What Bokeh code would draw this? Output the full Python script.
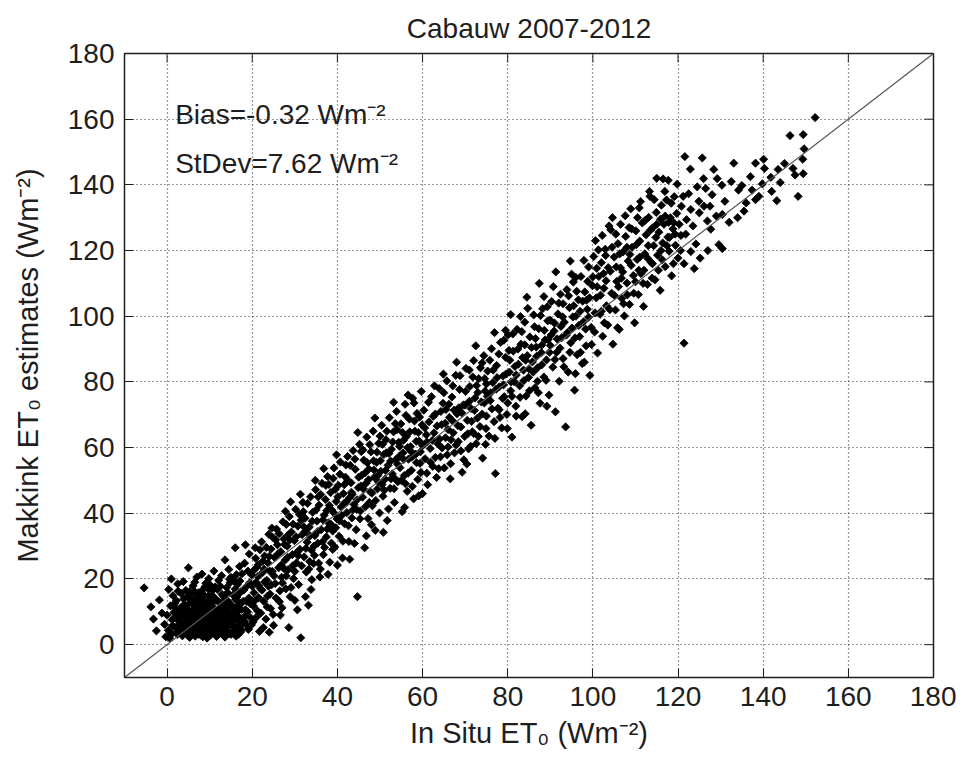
import math
from bokeh.plotting import figure
from bokeh.models import Label, FixedTicker, Range1d, ColumnDataSource
from bokeh.embed import file_html
from bokeh.resources import INLINE

title_text = "Cabauw 2007-2012"
x_label = "In Situ ET\u2080 (Wm\u207b\u00b2)"
y_label = "Makkink ET\u2080 estimates (Wm\u207b\u00b2)"
bias_text = "Bias=-0.32 Wm\u207b\u00b2"
stdev_text = "StDev=7.62 Wm\u207b\u00b2"
axis_min, axis_max = -10, 180
tick_values = [0, 20, 40, 60, 80, 100, 120, 140, 160, 180]
one_to_one = [-10, 180]

# (In situ ET0, Makkink ET0) pairs, by region
cluster_pts = [
    (-5.4, 17.3), (-3.8, 11.5), (-3.2, 7.8), (-2.5, 4.2), (-1.8, 13.6), (-1.2, 9.6), (-0.6, 6.2), (-0.3, 2.4),
    (0.4, 16.8), (0.8, 11.8), (0.3, 4.4), (1.2, 7.6), (1.1, 3.3), (1.6, 9.8), (1.9, 5.2), (2.2, 13.4),
    (2.4, 3.1), (2.7, 7.2), (2.9, 10.9), (3.1, 4.8), (3.3, 15.6), (3.4, 8.4), (3.6, 2.7), (3.8, 6.1),
    (4.0, 12.2), (4.1, 9.7), (4.3, 4.0), (4.6, 7.1), (4.8, 14.6), (4.9, 2.9), (5.1, 10.4), (5.2, 5.6),
    (5.4, 8.6), (5.6, 3.5), (5.7, 12.8), (5.9, 6.8), (6.1, 17.9), (6.2, 4.3), (6.3, 9.4), (6.5, 11.5),
    (6.6, 2.6), (6.8, 7.7), (6.9, 14.1), (7.1, 5.1), (7.2, 10.2), (7.4, 3.2), (7.5, 12.9), (7.7, 8.3),
    (7.8, 6.0), (8.0, 16.2), (8.1, 4.1), (8.2, 10.9), (8.4, 2.4), (8.5, 7.2), (8.7, 13.4), (8.8, 5.4),
    (9.0, 9.1), (9.1, 18.7), (9.2, 3.3), (9.4, 11.6), (9.5, 6.6), (9.7, 14.8), (9.8, 4.6), (10.0, 8.1),
    (10.1, 2.8), (10.2, 12.2), (10.4, 5.8), (10.5, 9.9), (10.7, 16.6), (10.8, 3.9), (11.0, 7.4), (11.1, 11.0),
    (11.3, 4.9), (11.4, 13.9), (11.6, 2.5), (11.7, 8.7), (11.9, 6.2), (12.0, 10.5), (12.1, 19.6), (12.3, 3.6),
    (12.4, 12.8), (12.6, 7.9), (12.8, 5.2), (12.9, 15.3), (13.1, 9.5), (13.2, 2.9), (13.4, 6.6), (13.5, 11.9),
    (13.7, 4.2), (13.8, 8.4), (14.0, 17.4), (14.1, 13.5), (14.3, 5.5), (14.4, 10.1), (14.6, 3.4), (14.7, 7.6),
    (14.9, 12.4), (15.0, 20.5), (15.2, 6.0), (15.3, 9.2), (15.5, 15.1), (15.6, 4.3), (15.8, 11.1), (15.9, 7.7),
    (16.1, 13.8), (16.2, 2.6), (16.4, 9.9), (16.5, 18.3), (16.7, 5.4), (16.8, 12.0), (17.0, 8.3), (17.2, 15.9),
    (17.3, 3.9), (17.5, 10.7), (17.6, 21.6), (17.8, 6.5), (17.9, 13.2),
    (3.5, 5.5), (4.5, 10.8), (5.5, 7.3), (6.0, 13.3), (6.4, 5.7), (7.0, 9.0), (7.6, 11.1), (8.3, 6.4),
    (8.9, 12.1), (9.3, 7.9), (9.9, 10.6), (10.3, 6.9), (10.9, 13.0), (11.5, 9.6), (12.2, 8.6), (12.7, 11.3),
    (13.3, 7.3), (13.9, 9.9), (4.2, 7.9), (5.0, 12.3), (6.7, 10.6), (7.3, 6.9), (8.6, 8.9), (9.6, 12.9),
    (11.2, 5.6), (12.5, 4.4), (13.6, 13.8), (5.8, 15.4), (7.9, 14.6), (10.6, 15.0), (3.0, 8.1), (2.0, 11.2),
    (4.4, 16.5), (6.6, 16.0), (11.8, 16.8), (14.2, 15.9), (16.0, 16.9), (2.6, 16.3), (1.4, 14.9), (0.0, 9.0),
]

cluster_more = [
    (0.6, 2.0), (1.3, 5.8), (1.8, 12.6), (2.3, 8.8), (2.5, 4.0), (3.2, 11.2), (3.7, 3.8), (3.9, 13.9),
    (4.4, 5.0), (4.7, 9.0), (5.3, 2.2), (5.3, 16.2), (5.8, 10.2), (6.3, 7.4), (6.8, 12.3), (6.9, 3.9),
    (7.4, 15.8), (7.6, 4.6), (8.0, 11.6), (8.4, 9.8), (8.6, 15.2), (9.0, 5.9), (9.4, 2.0), (9.8, 16.8),
    (10.2, 4.2), (10.6, 11.4), (10.9, 7.9), (11.3, 17.6), (11.6, 10.4), (12.0, 3.0), (12.4, 6.2), (12.9, 9.1),
    (13.3, 14.6), (13.6, 2.3), (14.0, 6.4), (14.4, 12.0), (14.8, 18.9), (15.2, 11.8), (15.6, 8.5), (16.0, 5.2),
    (16.4, 14.5), (16.8, 3.2), (17.2, 12.6), (17.6, 7.6), (18.0, 16.6), (18.4, 10.6), (18.8, 5.8), (19.2, 14.2),
    (19.6, 8.2), (20.0, 17.8),
    (5.0, 23.4), (7.0, 20.6), (8.2, 21.5), (9.8, 20.1), (11.0, 22.4), (13.6, 25.8), (16.0, 29.5), (18.4, 30.4),
    (12.8, 21.0), (14.5, 22.9), (15.7, 19.5), (17.0, 23.8), (19.0, 22.4), (3.8, 19.2), (2.5, 18.5), (1.0, 20.0),
    (6.5, 19.0),
    (2.8, 6.0), (3.3, 9.9), (4.9, 4.4), (5.5, 13.8), (6.0, 8.0), (7.2, 13.6), (7.9, 2.9), (8.8, 10.0),
    (9.7, 8.9), (10.4, 13.9), (11.0, 5.0), (11.9, 13.2), (12.8, 6.9), (13.5, 10.6), (14.2, 8.0), (15.0, 3.1),
    (15.9, 10.1), (16.7, 7.0), (17.4, 4.6), (18.2, 7.1), (18.7, 13.2),
    (19.4, 18.8), (20.6, 13.4), (21.1, 23.6), (21.6, 17.9), (22.0, 9.6), (22.9, 19.1), (23.6, 14.8), (24.1, 22.4),
    (18.9, 10.0), (19.8, 6.0), (17.1, 19.4), (16.3, 21.3), (14.7, 19.9), (12.5, 17.8), (10.1, 18.2), (8.9, 17.6),
]

rise_pts = [
    (18.2, 24.8), (18.5, 9.0), (18.8, 17.9), (19.1, 4.6), (19.3, 27.6), (19.6, 12.4), (19.9, 21.2), (20.2, 6.9),
    (20.4, 15.8), (20.7, 29.5), (20.9, 19.0), (21.2, 10.3), (21.4, 24.3), (21.7, 4.0), (21.9, 17.1), (22.2, 31.3),
    (22.4, 21.9), (22.7, 13.2), (22.9, 27.0), (23.2, 7.8), (23.4, 19.6), (23.7, 24.9), (23.9, 33.6), (24.2, 15.4),
    (24.4, 29.1), (24.7, 22.3), (24.9, 9.2), (25.2, 26.6), (25.4, 18.6), (25.7, 35.2), (25.9, 30.4), (26.2, 23.4),
    (26.4, 13.1), (26.7, 28.3), (26.9, 20.5), (27.2, 37.4), (27.4, 32.2), (27.7, 25.7), (27.9, 17.0), (28.2, 30.0),
    (28.4, 22.8), (28.7, 39.0), (28.9, 14.6), (29.2, 34.3), (29.4, 27.4), (29.7, 20.1), (29.9, 31.7), (30.2, 41.2),
    (30.4, 24.9), (30.7, 36.1), (30.9, 18.3), (31.2, 29.0), (31.4, 2.1), (31.7, 33.5), (31.9, 43.3), (32.2, 26.7),
    (32.4, 38.5), (32.7, 22.1), (32.9, 31.2), (33.2, 12.0), (33.4, 35.8), (33.7, 45.0), (33.9, 28.8), (34.2, 40.3),
    (34.4, 24.7), (34.7, 33.2), (34.9, 47.2), (35.2, 37.6), (35.4, 30.9), (35.7, 42.5), (35.9, 20.6), (36.2, 35.0),
    (36.4, 49.1), (36.7, 27.4), (36.9, 39.4), (37.2, 44.2), (37.4, 32.8), (37.7, 51.2), (37.9, 37.1), (38.2, 25.1),
    (38.4, 46.3), (38.7, 41.0), (38.9, 34.6), (39.2, 53.8), (39.4, 29.7), (39.7, 43.6), (39.9, 38.3), (40.2, 48.5),
    (40.4, 33.0), (40.7, 55.6), (40.9, 41.9), (41.2, 26.4), (41.4, 46.0), (41.7, 36.8), (41.9, 51.0), (42.2, 40.2),
    (42.4, 57.3), (42.7, 31.4), (42.9, 44.8), (43.2, 49.3), (43.4, 38.6), (43.7, 59.1), (43.9, 42.7), (44.2, 53.4),
    (44.4, 35.0), (44.7, 14.6), (44.9, 47.8), (45.2, 61.0), (45.4, 40.7), (45.7, 51.6), (45.9, 44.9), (46.2, 56.2),
    (46.4, 29.5), (46.7, 49.1), (46.9, 63.2), (47.2, 38.4), (47.4, 53.5), (47.7, 46.6), (47.9, 58.7), (48.2, 42.3),
    (48.4, 65.0), (48.7, 51.0), (48.9, 34.8), (49.2, 55.5), (49.4, 47.4), (49.7, 61.3), (49.9, 40.1), (50.2, 52.8),
    (50.4, 66.8), (50.7, 45.2), (50.9, 57.9), (51.2, 50.4), (51.4, 62.4), (51.7, 37.8), (51.9, 54.6), (52.2, 69.1),
    (52.4, 47.6), (52.7, 59.5), (52.9, 52.0), (53.2, 64.8), (53.4, 43.3), (53.7, 56.3), (53.9, 71.0), (54.2, 49.6),
    (54.4, 61.6), (54.7, 53.9), (54.9, 67.2), (55.2, 40.5), (55.4, 58.4), (55.7, 51.5), (55.9, 73.2), (56.2, 63.3),
    (56.4, 46.7), (56.7, 56.5), (56.9, 68.7), (57.2, 60.3), (57.4, 53.1), (57.7, 75.0), (57.9, 44.4), (58.2, 65.0),
    (58.4, 58.0), (58.7, 70.4), (58.9, 50.3), (59.2, 62.0), (59.4, 55.2), (59.7, 77.1), (59.9, 66.9),
    (20.5, 22.8), (21.5, 14.3), (22.5, 25.4), (23.5, 11.5), (24.5, 18.2), (25.5, 31.9), (26.5, 16.4), (27.5, 23.1),
    (28.5, 33.5), (29.5, 24.0), (30.5, 28.1), (31.5, 37.9), (32.5, 34.5), (33.5, 25.3), (34.5, 30.0), (35.5, 45.0),
    (36.5, 31.3), (37.5, 40.8), (38.5, 36.6), (39.5, 47.3), (40.5, 37.7), (41.5, 42.9), (42.5, 49.9), (43.5, 45.8),
    (44.5, 41.2), (45.5, 48.3), (46.5, 52.3), (47.5, 43.3), (48.5, 56.0), (49.5, 51.5), (50.5, 48.8), (51.5, 58.4),
    (52.5, 55.9), (53.5, 50.6), (54.5, 57.3), (55.5, 62.2), (56.5, 60.0), (57.5, 57.1), (58.5, 61.9), (59.5, 58.7),
    (21.0, 8.4), (25.0, 5.9), (27.0, 11.2), (30.0, 13.5), (34.0, 19.8), (36.0, 23.0), (28.0, 36.6), (32.0, 40.5),
    (38.0, 48.8), (42.0, 54.7), (46.0, 59.3), (50.0, 63.5), (54.0, 65.5), (58.0, 73.6), (40.0, 24.2), (44.0, 30.8),
    (48.0, 36.5), (52.0, 41.3), (56.0, 49.0),
]

rise_more = [
    (20.3, 11.8), (20.8, 26.3), (21.3, 20.7), (21.8, 28.9), (22.3, 16.6), (22.6, 5.2), (22.8, 23.0), (23.3, 29.6),
    (23.8, 17.8), (24.0, 26.9), (24.3, 11.0), (24.8, 32.7), (25.1, 21.0), (25.6, 14.2), (26.0, 27.6), (26.3, 33.8),
    (26.8, 24.2), (27.1, 18.8), (27.6, 30.5), (28.0, 20.9), (28.3, 26.6), (28.6, 5.2), (28.8, 31.9), (29.1, 17.4),
    (29.6, 36.7), (30.0, 22.3), (30.3, 32.8), (30.6, 10.6), (30.8, 27.1), (31.1, 39.6), (31.6, 24.0), (32.1, 35.9),
    (32.5, 14.6), (32.6, 29.3), (33.0, 43.0), (33.3, 23.0), (33.6, 33.1), (34.1, 37.6), (34.6, 27.2), (35.0, 41.0),
    (35.3, 34.4), (35.6, 24.8), (36.1, 45.7), (36.6, 38.0), (37.0, 29.6), (37.3, 48.5), (37.6, 35.2), (38.1, 42.4),
    (38.6, 30.9), (39.0, 50.6), (39.3, 40.0), (39.6, 35.6), (40.1, 45.0), (40.6, 51.9), (41.0, 39.3), (41.3, 31.5),
    (41.6, 48.7), (42.1, 43.6), (42.6, 36.2), (43.0, 54.6), (43.3, 46.4), (43.6, 41.0), (44.1, 56.5), (44.6, 44.1),
    (45.0, 51.0), (45.3, 38.3), (45.6, 58.8), (46.1, 47.4), (46.6, 42.0), (47.0, 55.4), (47.3, 50.2), (47.6, 60.9),
    (48.1, 46.1), (48.6, 53.2), (49.0, 43.9), (49.3, 58.6), (49.6, 49.6), (50.1, 56.0), (50.6, 61.0), (51.0, 47.0),
    (51.3, 53.0), (51.6, 65.0), (52.1, 58.2), (52.6, 50.5), (53.0, 61.7), (53.3, 47.5), (53.6, 67.3), (54.1, 55.0),
    (54.6, 60.4), (55.0, 50.0), (55.3, 64.6), (55.6, 56.4), (56.1, 69.8), (56.6, 52.2), (57.0, 64.8), (57.3, 58.8),
    (57.6, 48.2), (58.1, 68.1), (58.6, 55.4), (59.0, 64.6), (59.3, 69.3), (59.6, 52.4), (60.0, 60.6),
    (24.6, 35.5), (27.8, 40.6), (29.0, 43.5), (31.3, 45.8), (34.8, 50.0), (36.8, 53.6), (39.8, 57.8), (44.8, 64.6),
    (48.8, 69.0), (53.2, 73.8), (56.6, 76.0),
    (33.8, 16.8), (37.8, 21.4), (42.9, 26.0), (46.8, 33.1), (50.8, 34.2), (55.8, 41.8), (59.1, 45.3), (38.9, 29.0),
    (26.6, 9.0), (24.0, 3.8),
]

upper_pts = [
    (60.3, 71.4), (60.6, 56.6), (60.9, 63.9), (61.2, 48.7), (61.5, 67.8), (61.8, 59.7), (62.1, 75.5), (62.4, 54.3),
    (62.7, 64.5), (63.0, 70.2), (63.3, 50.9), (63.6, 61.1), (63.9, 78.0), (64.2, 57.2), (64.5, 67.0), (64.8, 73.5),
    (65.1, 53.8), (65.4, 63.0), (65.7, 80.3), (66.0, 60.2), (66.3, 69.2), (66.6, 55.1), (66.9, 75.4), (67.2, 64.5),
    (67.5, 58.4), (67.8, 82.0), (68.1, 70.3), (68.4, 61.8), (68.7, 77.7), (69.0, 66.3), (69.3, 52.5), (69.6, 73.0),
    (69.9, 63.4), (70.2, 84.1), (70.5, 68.3), (70.8, 59.6), (71.1, 78.6), (71.4, 71.9), (71.7, 64.8), (72.0, 86.5),
    (72.3, 75.1), (72.6, 61.2), (72.9, 69.0), (73.2, 81.0), (73.5, 66.4), (73.8, 73.9), (74.1, 56.8), (74.4, 88.0),
    (74.7, 77.2), (75.0, 69.6), (75.3, 83.3), (75.6, 63.5), (75.9, 74.3), (76.2, 90.1), (76.5, 79.8), (76.8, 67.9),
    (77.1, 52.1), (77.4, 85.0), (77.7, 72.0), (78.0, 78.5), (78.3, 92.0), (78.6, 66.0), (78.9, 81.8), (79.2, 75.5),
    (79.5, 87.5), (79.8, 70.1), (80.1, 94.3), (80.4, 83.0), (80.7, 77.3), (81.0, 63.2), (81.3, 89.4), (81.6, 80.0),
    (81.9, 72.6), (82.2, 96.0), (82.5, 85.4), (82.8, 78.8), (83.1, 91.5), (83.4, 69.4), (83.7, 83.6), (84.0, 98.2),
    (84.3, 75.7), (84.6, 88.0), (84.9, 81.4), (85.2, 93.7), (85.5, 66.8), (85.8, 86.1), (86.1, 100.4), (86.4, 78.2),
    (86.7, 90.6), (87.0, 84.3), (87.3, 96.2), (87.6, 73.5), (87.9, 88.9), (88.2, 102.3), (88.5, 81.5), (88.8, 92.8),
    (89.1, 86.7), (89.4, 98.6), (89.7, 76.0), (90.0, 91.1), (90.3, 104.5), (90.6, 84.5), (90.9, 95.5), (91.2, 70.9),
    (91.5, 89.0), (91.8, 100.7), (92.1, 80.2), (92.4, 106.7), (92.7, 93.5), (93.0, 87.1), (93.6, 66.3), (93.3, 98.2),
    (93.9, 108.1), (94.2, 83.0), (94.5, 102.6), (94.8, 91.9), (95.1, 96.4), (95.4, 110.4), (95.7, 77.5), (96.0, 100.0),
    (96.3, 88.3), (96.6, 105.0), (96.9, 93.8), (97.2, 112.1), (97.5, 85.6), (97.8, 98.3), (98.1, 107.4), (98.4, 91.0),
    (98.7, 102.1), (99.0, 115.0), (99.3, 82.0), (99.6, 96.6), (99.9, 109.3),
    (61.0, 61.7), (62.5, 69.5), (64.0, 62.6), (65.5, 71.6), (67.0, 68.2), (68.5, 72.1), (70.0, 72.9), (71.5, 68.0),
    (73.0, 76.8), (74.5, 73.6), (76.0, 76.7), (77.5, 81.3), (79.0, 79.1), (80.5, 86.6), (82.0, 82.1), (83.5, 87.4),
    (85.0, 84.0), (86.5, 93.2), (88.0, 91.2), (89.5, 92.9), (91.0, 97.9), (92.5, 96.9), (94.0, 95.0), (95.5, 103.2),
    (97.0, 101.5), (98.5, 104.9), (63.0, 57.0), (66.0, 65.5), (69.0, 59.0), (72.0, 64.3), (75.0, 79.4), (78.0, 71.5),
    (81.0, 75.6), (84.0, 91.3), (87.0, 80.2), (90.0, 98.8), (93.0, 103.8), (96.0, 111.8), (99.0, 99.7), (71.0, 83.6),
    (74.0, 85.8), (79.5, 95.7), (83.0, 99.9), (88.5, 106.0), (60.0, 46.0), (61.0, 52.2),
]

upper_more = [
    (60.5, 66.0), (61.4, 73.8), (61.9, 55.5), (62.3, 62.2), (62.8, 78.8), (63.4, 66.6), (63.8, 53.6), (64.3, 71.0),
    (64.6, 59.9), (65.0, 76.7), (65.3, 67.4), (65.8, 57.8), (66.2, 73.2), (66.7, 62.4), (67.1, 78.8), (67.4, 71.4),
    (67.9, 60.8), (68.3, 66.7), (68.8, 81.9), (69.2, 70.6), (69.7, 56.3), (70.1, 77.1), (70.6, 64.2), (71.0, 74.1),
    (71.3, 60.4), (71.8, 81.5), (72.2, 71.3), (72.7, 78.9), (73.1, 63.4), (73.6, 84.3), (74.0, 70.2), (74.6, 81.0),
    (74.9, 65.8), (75.2, 75.6), (75.8, 86.6), (76.3, 71.8), (76.6, 83.6), (77.0, 62.8), (77.3, 77.8), (77.9, 88.5),
    (78.2, 69.2), (78.8, 75.0), (79.1, 92.7), (79.6, 82.4), (80.0, 73.6), (80.3, 89.6), (80.8, 80.0), (81.2, 94.6),
    (81.7, 84.7), (82.0, 69.6), (82.4, 90.0), (82.9, 75.3), (83.3, 95.3), (83.8, 80.4), (84.2, 86.6), (84.7, 102.4),
    (85.1, 77.3), (85.6, 90.5), (86.0, 83.0), (86.3, 96.8), (86.8, 87.8), (87.2, 76.7), (87.7, 100.2), (88.0, 85.2),
    (88.6, 95.7), (89.0, 80.5), (89.3, 102.9), (89.8, 89.0), (90.2, 94.3), (90.7, 109.0), (91.1, 86.8), (91.6, 93.1),
    (92.0, 104.0), (92.3, 90.3), (92.9, 99.8), (93.2, 84.6), (93.8, 94.3), (94.3, 106.2), (94.6, 89.0), (95.0, 112.8),
    (95.3, 99.8), (95.8, 93.4), (96.2, 107.6), (96.7, 97.2), (97.1, 89.0), (97.6, 104.6), (97.9, 117.0), (98.3, 96.1),
    (98.8, 110.6), (99.2, 105.6), (99.7, 91.4),
    (64.9, 82.4), (68.0, 86.0), (72.5, 91.0), (76.9, 95.0), (80.7, 100.5), (84.5, 105.8), (87.4, 110.0), (91.3, 113.5),
    (94.7, 116.8),
    (66.5, 50.5), (70.4, 55.0), (74.8, 61.0), (79.9, 65.8), (84.1, 70.3), (89.2, 72.6), (95.9, 82.5), (98.0, 86.0),
]

top_pts = [
    (100.2, 118.2), (100.6, 123.0), (100.4, 95.2), (100.8, 105.6), (101.1, 88.8), (101.4, 112.1), (101.7, 100.6),
    (102.0, 116.3), (102.3, 93.9), (102.6, 108.5), (102.9, 120.4), (103.2, 103.2), (103.5, 97.3), (103.8, 127.5),
    (104.2, 126.3), (104.1, 113.7), (104.4, 107.0), (104.7, 91.5), (105.0, 118.0), (105.3, 101.9), (105.6, 110.6),
    (105.9, 122.1), (106.2, 96.0), (106.5, 114.7), (106.8, 105.4), (107.1, 119.6), (107.4, 100.1), (107.7, 124.3),
    (108.0, 110.1), (108.3, 116.8), (108.6, 103.6), (108.9, 132.7), (109.2, 121.0), (109.5, 112.4), (109.8, 98.0),
    (110.1, 126.0), (110.4, 117.3), (110.9, 133.0), (110.7, 106.6), (111.0, 122.9), (111.3, 113.0), (111.6, 128.4),
    (111.9, 103.0), (112.2, 119.0), (112.5, 124.8), (112.8, 109.7), (113.1, 130.1), (113.3, 138.0), (113.4, 136.5),
    (113.7, 116.4), (114.0, 126.9), (114.3, 121.5), (114.6, 111.1), (115.0, 142.0), (114.9, 131.6), (115.2, 118.6),
    (115.5, 125.6), (115.8, 107.9), (116.1, 133.8), (116.5, 141.8), (116.4, 122.3), (116.7, 128.0), (117.0, 115.1),
    (117.7, 141.4), (117.3, 135.4), (117.6, 124.1), (117.9, 119.8), (118.2, 130.0), (118.5, 112.3), (118.8, 126.6),
    (119.1, 136.4), (119.4, 121.6), (119.7, 131.3), (120.0, 117.7), (120.6, 120.0), (120.8, 133.5), (121.2, 136.5),
    (121.4, 91.8), (121.4, 116.0), (121.6, 148.6), (122.0, 129.4), (122.9, 144.8), (123.0, 119.7), (123.0, 132.5),
    (123.8, 114.5), (124.5, 139.4), (124.9, 135.0), (125.2, 117.7), (125.7, 148.2), (126.0, 141.9), (126.1, 133.5),
    (126.5, 138.9), (126.9, 129.0), (127.5, 133.5), (127.7, 126.5), (128.4, 144.7), (129.2, 141.9), (129.6, 121.8),
    (130.3, 139.9), (130.4, 131.0), (130.4, 120.6), (132.0, 128.6), (133.1, 146.6), (134.0, 130.0), (134.2, 138.4),
    (135.0, 139.8), (136.0, 134.5), (137.4, 138.4), (138.2, 146.6), (138.2, 135.5), (139.8, 140.3), (140.1, 147.8),
    (140.3, 145.0), (141.8, 142.3), (143.2, 135.2), (143.5, 144.7), (144.0, 140.7), (146.3, 155.0), (147.0, 145.0),
    (148.2, 136.5), (149.4, 143.4), (149.3, 147.8), (149.4, 155.3), (149.6, 151.0), (152.2, 160.5),
    (101.0, 109.0), (102.5, 113.0), (103.0, 118.5), (104.5, 121.0), (106.0, 109.0), (107.0, 113.5), (108.0, 121.0),
    (109.0, 115.5), (110.0, 110.5), (111.0, 118.0), (112.0, 114.0), (113.0, 121.5), (114.0, 116.0), (115.0, 128.0),
    (116.0, 120.0), (117.0, 130.5), (118.0, 124.0), (119.0, 128.5), (106.5, 128.0), (108.5, 127.0), (110.5, 130.0),
    (105.5, 115.0), (102.0, 101.5), (100.0, 112.0),
]

top_more = [
    (100.5, 101.0), (100.9, 114.6), (101.3, 120.2), (101.8, 106.4), (102.2, 124.6), (102.7, 98.0), (103.1, 110.8),
    (103.6, 114.8), (104.0, 102.0), (104.6, 130.0), (105.1, 106.3), (105.4, 125.0), (105.8, 96.5), (106.3, 119.0),
    (106.7, 111.6), (107.2, 103.8), (107.6, 130.6), (108.1, 106.5), (108.7, 118.8), (109.1, 126.6), (109.6, 107.0),
    (110.2, 121.8), (110.8, 114.0), (111.2, 134.9), (111.8, 110.0), (112.3, 129.2), (112.9, 117.6), (113.5, 126.2),
    (113.9, 111.6), (114.4, 135.5), (114.8, 124.0), (115.4, 114.0), (115.9, 129.6), (116.3, 117.2), (116.9, 138.0),
    (117.4, 121.5), (117.8, 128.6), (118.4, 134.4), (118.9, 116.0), (119.3, 125.0), (119.8, 140.2), (120.3, 128.0),
    (120.7, 124.6), (121.8, 125.0), (122.5, 137.3), (123.5, 127.5), (124.2, 122.0), (125.0, 131.5), (127.0, 120.0),
    (128.0, 137.0), (129.0, 130.5), (131.0, 135.0), (132.5, 141.0), (135.5, 132.0), (137.0, 142.5), (139.0, 136.5),
    (142.0, 138.0), (145.0, 146.5), (147.5, 143.0),
]

all_pts = cluster_pts + cluster_more + rise_pts + rise_more + upper_pts + upper_more + top_pts + top_more
in_situ = [pt[0] for pt in all_pts]
makkink = [pt[1] for pt in all_pts]

FONT = "Liberation Sans"
INK = "#1e1e1e"

p = figure(width=956, height=763, output_backend="svg", toolbar_location=None,
           x_range=Range1d(axis_min, axis_max), y_range=Range1d(axis_min, axis_max),
           min_border_left=124, min_border_right=23, min_border_top=52, min_border_bottom=86,
           background_fill_color="white", border_fill_color="white")

p.title.text = title_text
p.title.align = "center"
p.title.text_font = FONT
p.title.text_font_size = "28px"
p.title.text_font_style = "normal"
p.title.text_color = INK
p.title.standoff = 20

p.outline_line_color = INK
p.outline_line_width = 1.5

for ax in (p.xaxis[0], p.yaxis[0]):
    ax.ticker = FixedTicker(ticks=tick_values)
    ax.major_tick_in = 9
    ax.major_tick_out = 0
    ax.minor_tick_line_color = None
    ax.axis_line_color = INK
    ax.major_tick_line_color = INK
    ax.major_label_text_font = FONT
    ax.major_label_text_font_size = "28px"
    ax.major_label_text_color = INK
    ax.axis_label_text_font = FONT
    ax.axis_label_text_font_size = "29px"
    ax.axis_label_text_font_style = "normal"
    ax.axis_label_text_color = INK

p.xaxis[0].axis_label = x_label
p.yaxis[0].axis_label = y_label
p.xaxis[0].major_label_standoff = 9
p.yaxis[0].major_label_standoff = 10
p.xaxis[0].axis_label_standoff = 8
p.yaxis[0].axis_label_standoff = 21

for g in (p.xgrid[0], p.ygrid[0]):
    g.ticker = FixedTicker(ticks=tick_values)
    g.grid_line_color = "#333333"
    g.grid_line_dash = "1 3"
    g.grid_line_width = 1.2

# inward tick marks on the top and right edges of the box
p.ray(x=tick_values, y=[axis_max] * len(tick_values), length=9, length_units="screen",
      angle=-math.pi / 2, line_color=INK, line_width=1)
p.ray(x=[axis_max] * len(tick_values), y=tick_values, length=9, length_units="screen",
      angle=math.pi, line_color=INK, line_width=1)

src = ColumnDataSource(dict(x=in_situ, y=makkink))
p.scatter("x", "y", source=src, marker="square", size=5.8, angle=math.pi / 4,
          fill_color="black", line_color="black", line_width=0.8)

p.line(one_to_one, one_to_one, line_color="#555555", line_width=1.2)

p.add_layout(Label(x=1.9, y=161.5, text=bias_text, text_font=FONT, text_font_size="28px",
                   text_color=INK, text_baseline="alphabetic"))
p.add_layout(Label(x=1.9, y=146.5, text=stdev_text, text_font=FONT, text_font_size="28px",
                   text_color=INK, text_baseline="alphabetic"))

open("out.html", "w").write(file_html(p, INLINE))
